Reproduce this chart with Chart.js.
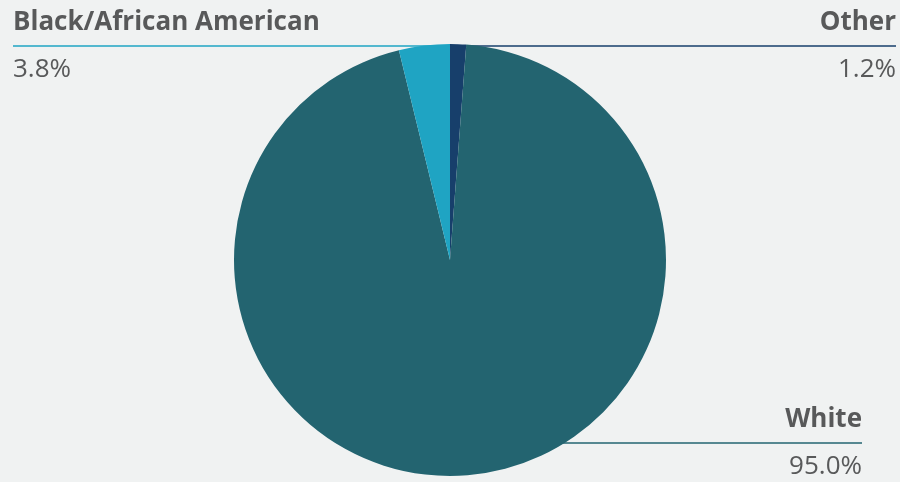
<!DOCTYPE html>
<html>
<head>
<meta charset="utf-8">
<title>Population by race</title>
<script src="https://cdn.jsdelivr.net/npm/chart.js@4.4.1/dist/chart.umd.min.js"></script>
<style>
  html, body { margin: 0; padding: 0; background: #f0f2f2; }
  #wrap { position: relative; width: 900px; height: 482px; }
</style>
</head>
<body>
<div id="wrap"><canvas id="raceChart"></canvas></div>
<script>
// Slice order runs clockwise from 12 o'clock
const categories = ['Other', 'White', 'Black/African American'];
const shares = [1.2, 95.0, 3.8];
const sliceColors = ['#173f6b', '#236470', '#1fa4c3'];

const textColor = '#58595a';

// Where each callout sits: side of the canvas, y of the leader line
const callouts = {
  'Black/African American': { align: 'left', x: 13, lineY: 46 },
  'Other': { align: 'right', x: 896, lineY: 46 },
  'White': { align: 'right', x: 862, lineY: 443 }
};

// Draws leader lines behind the pie, then the labels on top
const calloutPlugin = {
  id: 'callouts',
  beforeDatasetsDraw(chart) {
    const ctx = chart.ctx;
    const arc = chart.getDatasetMeta(0).data[0];
    const cx = arc.x;
    ctx.save();
    chart.data.labels.forEach(function (label, i) {
      const c = callouts[label];
      if (!c) return;
      ctx.strokeStyle = sliceColors[i];
      ctx.lineWidth = 1.5;
      ctx.beginPath();
      ctx.moveTo(c.x, c.lineY);
      ctx.lineTo(cx, c.lineY);
      ctx.stroke();
    });
    ctx.restore();
  },
  afterDatasetsDraw(chart) {
    const ctx = chart.ctx;
    const values = chart.data.datasets[0].data;
    ctx.save();
    ctx.fillStyle = textColor;
    ctx.textBaseline = 'alphabetic';
    chart.data.labels.forEach(function (label, i) {
      const c = callouts[label];
      if (!c) return;
      ctx.textAlign = c.align;
      ctx.font = '700 26px "Open Sans"';
      ctx.fillText(label, c.x, c.lineY - 16);
      ctx.font = '400 26px "Open Sans"';
      ctx.fillText(values[i].toFixed(1) + '%', c.x, c.lineY + 31);
    });
    ctx.restore();
  }
};

new Chart(document.getElementById('raceChart'), {
  type: 'pie',
  data: {
    labels: categories,
    datasets: [{
      data: shares,
      backgroundColor: sliceColors,
      borderWidth: 0
    }]
  },
  options: {
    responsive: true,
    maintainAspectRatio: false,
    animation: false,
    rotation: 0,
    layout: { padding: { top: 44, bottom: 6, left: 0, right: 0 } },
    plugins: {
      legend: { display: false },
      tooltip: { enabled: false }
    }
  },
  plugins: [calloutPlugin]
});
</script>
</body>
</html>
